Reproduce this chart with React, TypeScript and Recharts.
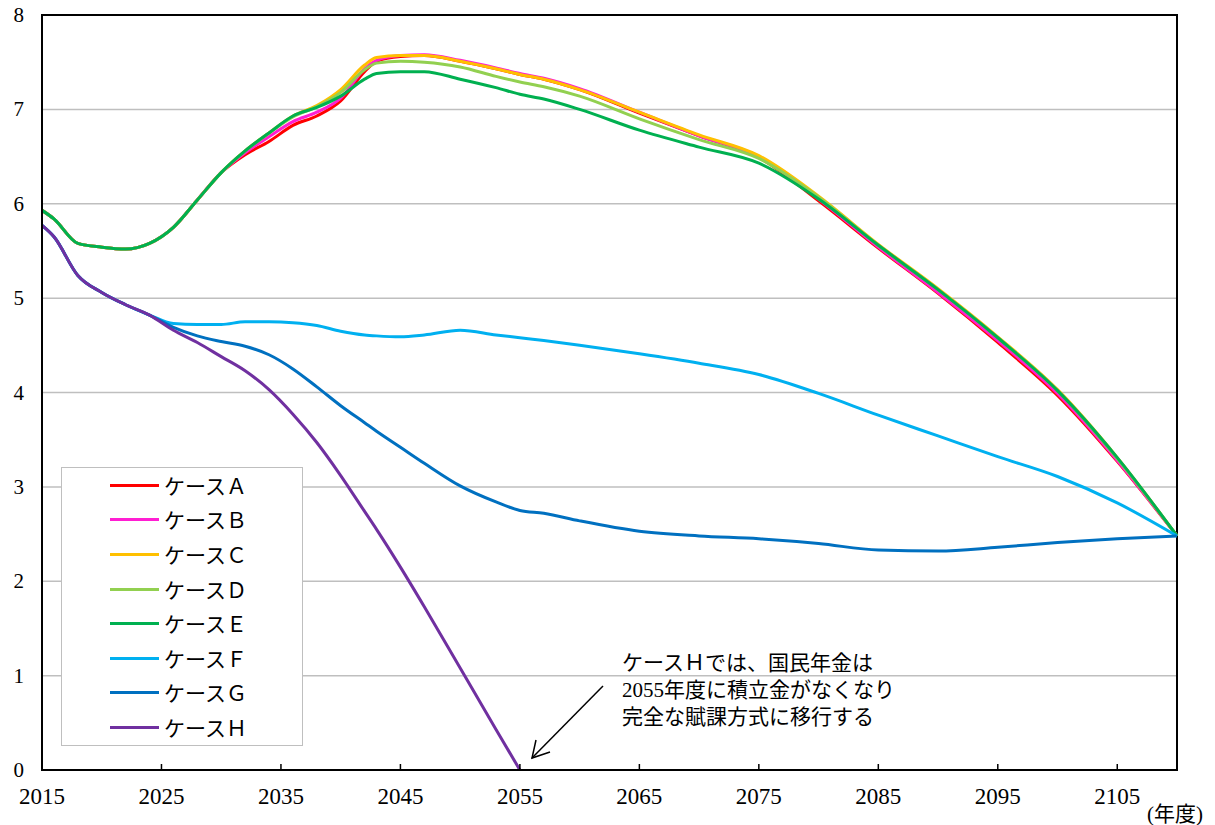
import React from "react";
import {
  LineChart,
  Line,
  XAxis,
  YAxis,
  CartesianGrid,
  Legend,
  ReferenceArea,
} from "recharts";

const years = [
  2015, 2016, 2018, 2020, 2022, 2024, 2026, 2028, 2030, 2032, 2034, 2036, 2038,
  2040, 2042, 2043, 2045, 2047, 2050, 2053, 2055, 2057, 2060, 2065, 2070, 2075,
  2080, 2085, 2090, 2095, 2100, 2105, 2110,
];

const caseA = [
  5.93, 5.84, 5.58, 5.54, 5.52, 5.58, 5.75, 6.04, 6.33, 6.52, 6.66, 6.83, 6.93,
  7.09, 7.4, 7.51, 7.56, 7.57, 7.51, 7.43, 7.37, 7.32, 7.21, 6.96, 6.72, 6.49,
  6.03, 5.53, 5.05, 4.53, 3.97, 3.27, 2.48,
];
const caseB = [
  5.93, 5.84, 5.58, 5.54, 5.52, 5.58, 5.75, 6.04, 6.33, 6.54, 6.71, 6.87, 6.97,
  7.12, 7.43, 7.52, 7.57, 7.58, 7.52, 7.44, 7.38, 7.33, 7.22, 6.97, 6.72, 6.5,
  6.05, 5.54, 5.06, 4.55, 3.99, 3.28, 2.48,
];
const caseC = [
  5.93, 5.84, 5.58, 5.54, 5.52, 5.58, 5.75, 6.04, 6.33, 6.56, 6.75, 6.93, 7.04,
  7.21, 7.47, 7.55, 7.57, 7.57, 7.51, 7.43, 7.37, 7.32, 7.21, 6.97, 6.73, 6.51,
  6.08, 5.57, 5.1, 4.59, 4.03, 3.31, 2.48,
];
const caseD = [
  5.93, 5.84, 5.58, 5.54, 5.52, 5.58, 5.75, 6.04, 6.33, 6.56, 6.75, 6.92, 7.03,
  7.18, 7.42, 7.49, 7.51, 7.5, 7.45, 7.35, 7.29, 7.24, 7.14, 6.9, 6.68, 6.48,
  6.07, 5.56, 5.09, 4.58, 4.02, 3.3, 2.48,
];
const caseE = [
  5.93, 5.84, 5.58, 5.54, 5.52, 5.58, 5.75, 6.04, 6.33, 6.56, 6.75, 6.93, 7.02,
  7.14, 7.32, 7.38, 7.4, 7.4, 7.32, 7.23, 7.16, 7.11, 7.0, 6.78, 6.6, 6.43,
  6.05, 5.56, 5.09, 4.58, 4.02, 3.31, 2.48,
];
const caseF = [
  5.77, 5.65, 5.24, 5.06, 4.93, 4.82, 4.73, 4.72, 4.72, 4.75, 4.75, 4.74, 4.71,
  4.65, 4.61, 4.6, 4.59, 4.61, 4.66, 4.61, 4.58, 4.55, 4.5, 4.41, 4.31, 4.19,
  3.99, 3.76, 3.54, 3.32, 3.11, 2.83, 2.48,
];
const caseG = [
  5.77, 5.65, 5.24, 5.06, 4.93, 4.82, 4.69, 4.6, 4.54, 4.49, 4.4, 4.25, 4.06,
  3.86, 3.68, 3.59, 3.42, 3.25, 3.01, 2.84, 2.75, 2.72, 2.64, 2.53, 2.48, 2.45,
  2.4, 2.33, 2.32, 2.36, 2.41, 2.45, 2.48,
];
const caseH = [
  5.77, 5.65, 5.24, 5.06, 4.93, 4.82, 4.66, 4.53, 4.38, 4.23, 4.03, 3.77, 3.47,
  3.12, 2.74, 2.55, 2.15, 1.73, 1.08, 0.43, 0, null, null, null, null, null,
  null, null, null, null, null, null, null,
];

const xTicks = [2015, 2025, 2035, 2045, 2055, 2065, 2075, 2085, 2095, 2105];
const yTicks = [0, 1, 2, 3, 4, 5, 6, 7, 8];

const seriesList = [
  { key: "a", name: "ケースＡ", values: caseA, color: "#FF0000" },
  { key: "b", name: "ケースＢ", values: caseB, color: "#FF1ED2" },
  { key: "c", name: "ケースＣ", values: caseC, color: "#FFC000" },
  { key: "d", name: "ケースＤ", values: caseD, color: "#92D050" },
  { key: "e", name: "ケースＥ", values: caseE, color: "#00B050" },
  { key: "f", name: "ケースＦ", values: caseF, color: "#00B0F0" },
  { key: "g", name: "ケースＧ", values: caseG, color: "#0070C0" },
  { key: "h", name: "ケースＨ", values: caseH, color: "#7030A0" },
];

const noteLines = [
  "ケースＨでは、国民年金は",
  "2055年度に積立金がなくなり",
  "完全な賦課方式に移行する",
];

const data = years.map((year, i) => {
  const row: Record<string, number | null> = { year };
  seriesList.forEach((s) => {
    row[s.key] = s.values[i];
  });
  return row;
});

const serif =
  '"Liberation Serif", "Times New Roman", "DejaVu Serif", "Noto Sans CJK JP", serif';
const gothic = '"Noto Sans CJK JP", "Noto Sans", sans-serif';

function XTick({ x, y, payload }: any) {
  return (
    <g>
      {payload.value !== 2015 && (
        <line x1={x} x2={x} y1={y} y2={y - 6} stroke="#000" strokeWidth={1.5} />
      )}
      <text
        x={x}
        y={y + 34}
        textAnchor="middle"
        style={{ fontFamily: serif, fontSize: 23 }}
        fill="#000"
      >
        {payload.value}
      </text>
    </g>
  );
}

function YTick({ x, y, payload }: any) {
  return (
    <text
      x={x}
      y={y + 7}
      textAnchor="end"
      style={{ fontFamily: serif, fontSize: 21 }}
      fill="#000"
    >
      {payload.value}
    </text>
  );
}

function LegendBox({ payload }: any) {
  return (
    <div
      style={{
        width: 242,
        height: 279,
        boxSizing: "border-box",
        border: "1.5px solid #bfbfbf",
        background: "#fff",
      }}
    >
      {(payload || []).map((p: any) => (
        <div
          key={p.value}
          style={{ height: 34.6, display: "flex", alignItems: "center" }}
        >
          <span
            style={{
              marginLeft: 48,
              width: 49,
              height: 3,
              background: p.color,
              display: "inline-block",
            }}
          />
          <span
            style={{
              marginLeft: 5,
              fontFamily: gothic,
              fontSize: 21,
              color: "#000",
              lineHeight: 1,
            }}
          >
            {p.value}
          </span>
        </div>
      ))}
    </div>
  );
}

export default function App() {
  return (
    <div
      style={{
        position: "absolute",
        left: 0,
        top: 0,
        width: 1215,
        height: 825,
        background: "#fff",
      }}
    >
      <LineChart
        width={1215}
        height={825}
        data={data}
        margin={{ top: 15, right: 38, left: 0, bottom: 0 }}
      >
        <CartesianGrid vertical={false} stroke="#bfbfbf" strokeWidth={1.5} />
        <XAxis
          dataKey="year"
          type="number"
          domain={[2015, 2110]}
          ticks={xTicks}
          interval={0}
          height={55}
          tickSize={0}
          tickMargin={0}
          tickLine={false}
          axisLine={{ stroke: "#000", strokeWidth: 2 }}
          tick={<XTick />}
        />
        <YAxis
          type="number"
          domain={[0, 8]}
          ticks={yTicks}
          interval={0}
          width={42}
          tickSize={0}
          tickMargin={18}
          tickLine={false}
          axisLine={{ stroke: "#000", strokeWidth: 2 }}
          tick={<YTick />}
        />
        <ReferenceArea
          x1={2015}
          x2={2110}
          y1={0}
          y2={8}
          fill="none"
          fillOpacity={0}
          stroke="#000"
          strokeWidth={2}
          ifOverflow="visible"
        />
        {seriesList.map((s) => (
          <Line
            key={s.key}
            type="monotone"
            dataKey={s.key}
            name={s.name}
            stroke={s.color}
            strokeWidth={3}
            dot={false}
            activeDot={false}
            isAnimationActive={false}
          />
        ))}
        <Legend
          layout="vertical"
          align="center"
          verticalAlign="middle"
          content={<LegendBox />}
          wrapperStyle={{ left: 61, top: 467, width: 242, height: 279 }}
        />
      </LineChart>
      <svg
        width={1215}
        height={825}
        style={{ position: "absolute", left: 0, top: 0, pointerEvents: "none" }}
      >
        {noteLines.map((t, i) => (
          <text
            key={t}
            x={622}
            y={670 + i * 27}
            style={{ fontFamily: serif, fontSize: 21 }}
            fill="#000"
          >
            {t}
          </text>
        ))}
        <line x1={603} y1={686} x2={532} y2={758} stroke="#000" strokeWidth={1.5} />
        <polyline
          points="536,740 532,758 550,752"
          fill="none"
          stroke="#000"
          strokeWidth={1.5}
        />
        <text
          x={1147}
          y={821}
          style={{ fontFamily: serif, fontSize: 21 }}
          fill="#000"
        >
          (年度)
        </text>
      </svg>
    </div>
  );
}
